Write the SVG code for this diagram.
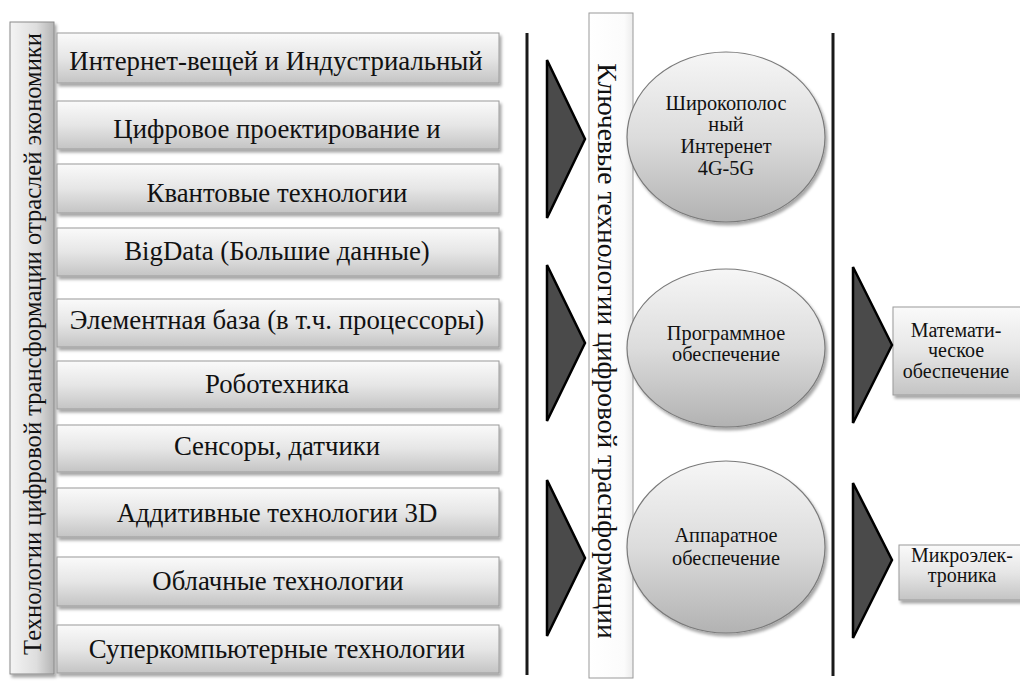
<svg xmlns="http://www.w3.org/2000/svg" width="1020" height="684" viewBox="0 0 1020 684" font-family="'Liberation Serif', 'Times New Roman', serif">
<defs>
<linearGradient id="gBox" x1="0" y1="0" x2="0" y2="1">
<stop offset="0" stop-color="#fafafa"/>
<stop offset="0.5" stop-color="#e6e6e6"/>
<stop offset="1" stop-color="#c4c4c4"/>
</linearGradient>
<linearGradient id="gSide" x1="0" y1="0" x2="1" y2="0">
<stop offset="0" stop-color="#f4f4f4"/>
<stop offset="0.6" stop-color="#dedede"/>
<stop offset="1" stop-color="#b4b4b4"/>
</linearGradient>
<linearGradient id="gMid" x1="0" y1="0" x2="1" y2="0">
<stop offset="0" stop-color="#ffffff"/>
<stop offset="0.8" stop-color="#fbfbfb"/>
<stop offset="1" stop-color="#ececec"/>
</linearGradient>
<linearGradient id="gEll" x1="0" y1="0" x2="0" y2="1">
<stop offset="0" stop-color="#f6f6f6"/>
<stop offset="0.5" stop-color="#dcdcdc"/>
<stop offset="1" stop-color="#b2b2b2"/>
</linearGradient>
<filter id="sh" x="-10%" y="-10%" width="130%" height="140%">
<feDropShadow dx="2" dy="3" stdDeviation="1.5" flood-color="#000" flood-opacity="0.35"/>
</filter>
</defs>
<style>
.box{fill:url(#gBox);stroke:#9a9a9a;stroke-width:1;filter:url(#sh)}
.ell{fill:url(#gEll);stroke:#7a7a7a;stroke-width:1.2;filter:url(#sh)}
.tri{fill:#4a4a4a;stroke:#000;stroke-width:2.5;stroke-linejoin:miter}
.ln{stroke:#1a1a1a;stroke-width:3;fill:none}
text{fill:#111}
.t{font-size:26.8px;text-anchor:middle}
.e{font-size:20.3px;text-anchor:middle}
.r{font-size:20px;text-anchor:middle}
</style>

<g id="side-left">
<rect x="10" y="22" width="44" height="652" fill="url(#gSide)" stroke="#8a8a8a" stroke-width="1" filter="url(#sh)"/>
<text transform="translate(41,344) rotate(-90)" font-size="24.6" text-anchor="middle">Технологии цифровой трансформации отраслей экономики</text>
</g>

<g id="n1"><rect class="box" x="57" y="33" width="442" height="50"/><text class="t" x="276" y="70">Интернет-вещей и Индустриальный</text></g>
<g id="n2"><rect class="box" x="57" y="101" width="442" height="48"/><text class="t" x="277" y="138">Цифровое проектирование и</text></g>
<g id="n3"><rect class="box" x="57" y="164" width="442" height="49"/><text class="t" x="277" y="202">Квантовые технологии</text></g>
<g id="n4"><rect class="box" x="57" y="228" width="442" height="48"/><text class="t" x="277" y="260">BigData (Большие данные)</text></g>
<g id="n5"><rect class="box" x="57" y="299" width="442" height="48"/><text class="t" x="277" y="329">Элементная база (в т.ч. процессоры)</text></g>
<g id="n6"><rect class="box" x="57" y="361" width="442" height="48"/><text class="t" x="277" y="393">Роботехника</text></g>
<g id="n7"><rect class="box" x="57" y="425" width="442" height="47"/><text class="t" x="277" y="455">Сенсоры, датчики</text></g>
<g id="n8"><rect class="box" x="57" y="488" width="442" height="49"/><text class="t" x="277" y="522">Аддитивные технологии 3D</text></g>
<g id="n9"><rect class="box" x="57" y="557" width="442" height="49"/><text class="t" x="278" y="590">Облачные технологии</text></g>
<g id="n10"><rect class="box" x="57" y="625" width="442" height="48"/><text class="t" x="277" y="658">Суперкомпьютерные технологии</text></g>

<g id="side-mid">
<rect x="589" y="13" width="44" height="665" fill="url(#gMid)" stroke="#9a9a9a" stroke-width="1"/>
<text transform="translate(598,351) rotate(90)" font-size="27.5" text-anchor="middle">Ключевые технологии цифровой траснформации</text>
</g>

<g id="e1"><ellipse class="ell" cx="726" cy="137" rx="99" ry="85"/>
<text class="e" x="726" y="110">Широкополос</text>
<text class="e" x="726" y="131">ный</text>
<text class="e" x="726" y="153">Интеренет</text>
<text class="e" x="726" y="175">4G-5G</text></g>
<g id="e2"><ellipse class="ell" cx="726" cy="348" rx="99" ry="79"/>
<text class="e" x="726" y="340">Программное</text>
<text class="e" x="726" y="361">обеспечение</text></g>
<g id="e3"><ellipse class="ell" cx="726" cy="547" rx="99" ry="86"/>
<text class="e" x="726" y="542">Аппаратное</text>
<text class="e" x="726" y="565">обеспечение</text></g>

<g id="r1"><rect class="box" x="893" y="307" width="130" height="88"/>
<text class="r" x="956" y="337">Математи-</text>
<text class="r" x="956" y="357">ческое</text>
<text class="r" x="956" y="378">обеспечение</text></g>
<g id="r2"><rect class="box" x="899" y="545" width="124" height="55"/>
<text class="r" x="962" y="562">Микроэлек-</text>
<text class="r" x="962" y="582">троника</text></g>

<g id="connectors">
<line class="ln" x1="527" y1="33" x2="527" y2="675"/>
<line class="ln" x1="833" y1="33" x2="833" y2="676"/>
<polygon class="tri" points="547,60 585,139 547,218"/>
<polygon class="tri" points="547,265 585,343 547,421"/>
<polygon class="tri" points="547,480 585,558 547,636"/>
<polygon class="tri" points="853,267 892,345 853,423"/>
<polygon class="tri" points="853,483 892,560 853,638"/>
</g>
</svg>
